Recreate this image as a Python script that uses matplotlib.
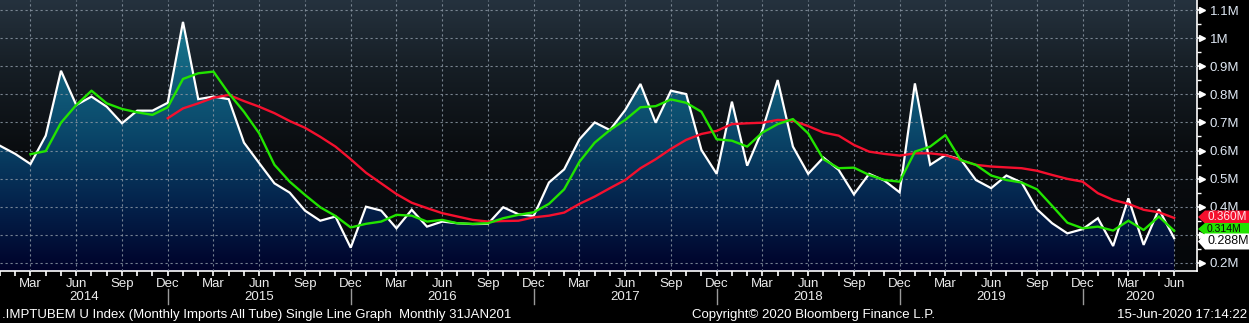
import numpy as np
import pandas as pd
import matplotlib
matplotlib.use("Agg")
import matplotlib.pyplot as plt
from matplotlib.colors import LinearSegmentedColormap
from matplotlib.patches import Polygon
from matplotlib.transforms import blended_transform_factory

plt.rcParams['font.family'] = ['Liberation Sans', 'DejaVu Sans']

# --------------------------------------------------
# DATA: monthly imports, all tube (millions)
# --------------------------------------------------
months = pd.date_range('2014-01-01', '2020-06-01', freq='MS')

imports = [0.617, 0.588, 0.552, 0.653, 0.884, 0.762, 0.792, 0.756, 0.697, 0.742, 0.742, 0.770,
           1.058, 0.783, 0.792, 0.783, 0.628, 0.555, 0.483, 0.450, 0.386, 0.350, 0.365, 0.254,
           0.400, 0.386, 0.323, 0.389, 0.329, 0.347, 0.341, 0.338, 0.339, 0.398, 0.373, 0.367,
           0.486, 0.533, 0.640, 0.700, 0.673, 0.744, 0.837, 0.699, 0.813, 0.801, 0.602, 0.517,
           0.774, 0.546, 0.673, 0.851, 0.614, 0.517, 0.575, 0.531, 0.444, 0.517, 0.493, 0.451,
           0.839, 0.549, 0.584, 0.569, 0.495, 0.466, 0.511, 0.486, 0.391, 0.341, 0.305, 0.320,
           0.359, 0.260, 0.430, 0.264, 0.391, 0.288]

# 3-month average, first value in Mar 2014
avg_3m_start = 2
avg_3m = [0.587, 0.598, 0.699, 0.762, 0.813, 0.768, 0.748, 0.736, 0.727, 0.754,
          0.855, 0.875, 0.881, 0.804, 0.738, 0.661, 0.549, 0.489, 0.442, 0.398, 0.367, 0.326,
          0.339, 0.347, 0.371, 0.368, 0.347, 0.353, 0.341, 0.339, 0.341, 0.359, 0.371, 0.380,
          0.410, 0.462, 0.560, 0.628, 0.673, 0.709, 0.754, 0.758, 0.782, 0.770, 0.738, 0.640,
          0.635, 0.614, 0.664, 0.694, 0.712, 0.661, 0.569, 0.537, 0.539, 0.513, 0.495, 0.489,
          0.596, 0.614, 0.655, 0.566, 0.549, 0.511, 0.495, 0.486, 0.462, 0.403, 0.343, 0.323,
          0.329, 0.315, 0.350, 0.317, 0.365, 0.314]

# 12-month average, first value in Dec 2014
avg_12m_start = 11
avg_12m = [0.715,
           0.750, 0.768, 0.788, 0.798, 0.776, 0.756, 0.733, 0.705, 0.681, 0.649, 0.614, 0.569,
           0.521, 0.483, 0.445, 0.414, 0.395, 0.377, 0.365, 0.353, 0.347, 0.349, 0.350, 0.362,
           0.368, 0.379, 0.410, 0.436, 0.466, 0.495, 0.537, 0.569, 0.606, 0.638, 0.659, 0.670,
           0.694, 0.697, 0.699, 0.709, 0.706, 0.687, 0.664, 0.653, 0.620, 0.596, 0.588, 0.582,
           0.590, 0.590, 0.584, 0.566, 0.549, 0.543, 0.540, 0.537, 0.528, 0.513, 0.499, 0.489,
           0.448, 0.424, 0.410, 0.389, 0.380, 0.360]

y_ticks = [0.2, 0.3, 0.4, 0.5, 0.6, 0.7, 0.8, 0.9, 1.0, 1.1]

WHITE = '#ffffff'
GREEN = '#22e400'
RED = '#f5102e'

x = np.arange(len(months))
x3 = np.arange(avg_3m_start, len(months))
x12 = np.arange(avg_12m_start, len(months))

# --------------------------------------------------
# FIGURE / AXES
# --------------------------------------------------
W, H = 1249, 323
fig = plt.figure(figsize=(W / 100, H / 100), dpi=100, facecolor='black')
ax = fig.add_axes([0, 1 - 271 / H, 1197 / W, 271 / H])
ax.set_facecolor('black')

xmax = 78.5
ymin, ymax = 0.171, 1.136
ax.set_xlim(0, xmax)
ax.set_ylim(ymin, ymax)

# background gradient
grad = np.linspace(0, 1, 256).reshape(-1, 1)
bg_cmap = LinearSegmentedColormap.from_list(
    'bg', [(0, '#05070a'), (0.45, '#0a0d10'), (0.75, '#161e25'), (1, '#25323e')])
ax.imshow(grad, cmap=bg_cmap, origin='lower', extent=[0, xmax, ymin, ymax],
          aspect='auto', zorder=0, interpolation='bicubic')

# gradient area under the series
fill_cmap = LinearSegmentedColormap.from_list(
    'fill', [(0, '#00022a'), (0.25, '#04234c'), (0.5, '#0a4669'), (0.75, '#12637f'), (1, '#1d8497')])
fill_img = ax.imshow(grad, cmap=fill_cmap, origin='lower', extent=[0, xmax, ymin, ymax],
                     aspect='auto', zorder=1, interpolation='bicubic')
area = ax.fill_between(x, imports, ymin, color='none', lw=0)
fill_img.set_clip_path(area.get_paths()[0], transform=ax.transData)

# grid
ax.set_xticks(x[2::3])
ax.set_xticks(x, minor=True)
ax.set_yticks(y_ticks)
ax.set_yticks(np.arange(0.25, 1.15, 0.1), minor=True)
ax.grid(True, which='major', color='#8a96a3', ls=(0, (2, 2.5)), lw=0.8, alpha=0.85, zorder=2)
ax.set_axisbelow(False)
for gl in ax.get_xgridlines() + ax.get_ygridlines():
    gl.set_zorder(2)

# series
ax.plot(x, imports, color=WHITE, lw=1.6, zorder=4, solid_joinstyle='miter')
ax.plot(x12, avg_12m, color=RED, lw=1.7, zorder=5)
ax.plot(x3, avg_3m, color=GREEN, lw=1.7, zorder=6)

# --------------------------------------------------
# AXES STYLE
# --------------------------------------------------
for side in ['left', 'top']:
    ax.spines[side].set_visible(False)
for side in ['right', 'bottom']:
    ax.spines[side].set_color(WHITE)
    ax.spines[side].set_linewidth(1.2)

ax.yaxis.tick_right()
# the 0.3M label sits under the value tags, so it is left blank
ax.set_yticklabels(['' if v == 0.3 else f'{v:g}M' for v in y_ticks])
ax.tick_params(axis='y', which='major', colors=WHITE, labelcolor='#dfe8f4',
               length=5, width=1.2, pad=4, labelsize=9.5)
ax.tick_params(axis='y', which='minor', colors=WHITE, length=3, width=1)

tick_tr = blended_transform_factory(ax.transAxes, ax.transData)
ax.plot([1.004] * len(y_ticks), y_ticks, ls='none', marker='>', ms=4.5,
        color=WHITE, transform=tick_tr, clip_on=False, zorder=7)

ax.set_xticklabels([d.strftime('%b') for d in months[2::3]])
ax.tick_params(axis='x', which='both', colors=WHITE, labelcolor='#ececec',
               length=3.5, width=1.2, pad=1.5, labelsize=9.5)

# year row with separators
year_tr = blended_transform_factory(ax.transData, ax.transAxes)
years = sorted(set(months.year))
for yr in years:
    idx = np.where(months.year == yr)[0]
    lo = max(idx[0] - 1, 0)
    hi = min(idx[-1], xmax) if yr != years[-1] else xmax
    ax.text((lo + hi) / 2, -0.096, str(yr), transform=year_tr, ha='center', va='center',
            color='#ececec', fontsize=9.5)
    if yr != years[-1]:
        ax.plot([idx[-1], idx[-1]], [-0.068, -0.122], transform=year_tr,
                color='#9a9a9a', lw=1, clip_on=False)

# last value tags on the right axis (pixel coords, y from the top)
def value_tag(yc, h, label, fc, tc, z, size):
    pts = [(1198, yc), (1205, yc - h / 2), (W + 2, yc - h / 2),
           (W + 2, yc + h / 2), (1205, yc + h / 2)]
    pts = [(px / W, 1 - py / H) for px, py in pts]
    fig.patches.append(Polygon(pts, closed=True, fc=fc, ec='none',
                               transform=fig.transFigure, zorder=z))
    fig.text(1207 / W, 1 - yc / H, label, color=tc, fontsize=size,
             va='center', ha='left', zorder=z + 0.5)

value_tag(217, 13, '0.360M', RED, '#ffe6ea', 10, 8.5)
value_tag(229, 12, '0.314M', GREEN, '#0a0a0a', 11, 7.5)
value_tag(241.5, 16, '0.288M', WHITE, '#0a0a0a', 12, 9)

# footer
foot_y = 1 - 315 / H
fig.text(2 / W, foot_y, '.IMPTUBEM U Index (Monthly Imports All Tube) Single Line Graph  Monthly 31JAN201',
         color=WHITE, fontsize=9.5, va='center', ha='left')
fig.text(692 / W, foot_y, 'Copyright\u00a9 2020 Bloomberg Finance L.P.',
         color=WHITE, fontsize=9.5, va='center', ha='left')
fig.text(1247 / W, foot_y, '15-Jun-2020 17:14:22',
         color=WHITE, fontsize=9.5, va='center', ha='right')

fig.savefig('out.png', dpi=100, facecolor='black')
